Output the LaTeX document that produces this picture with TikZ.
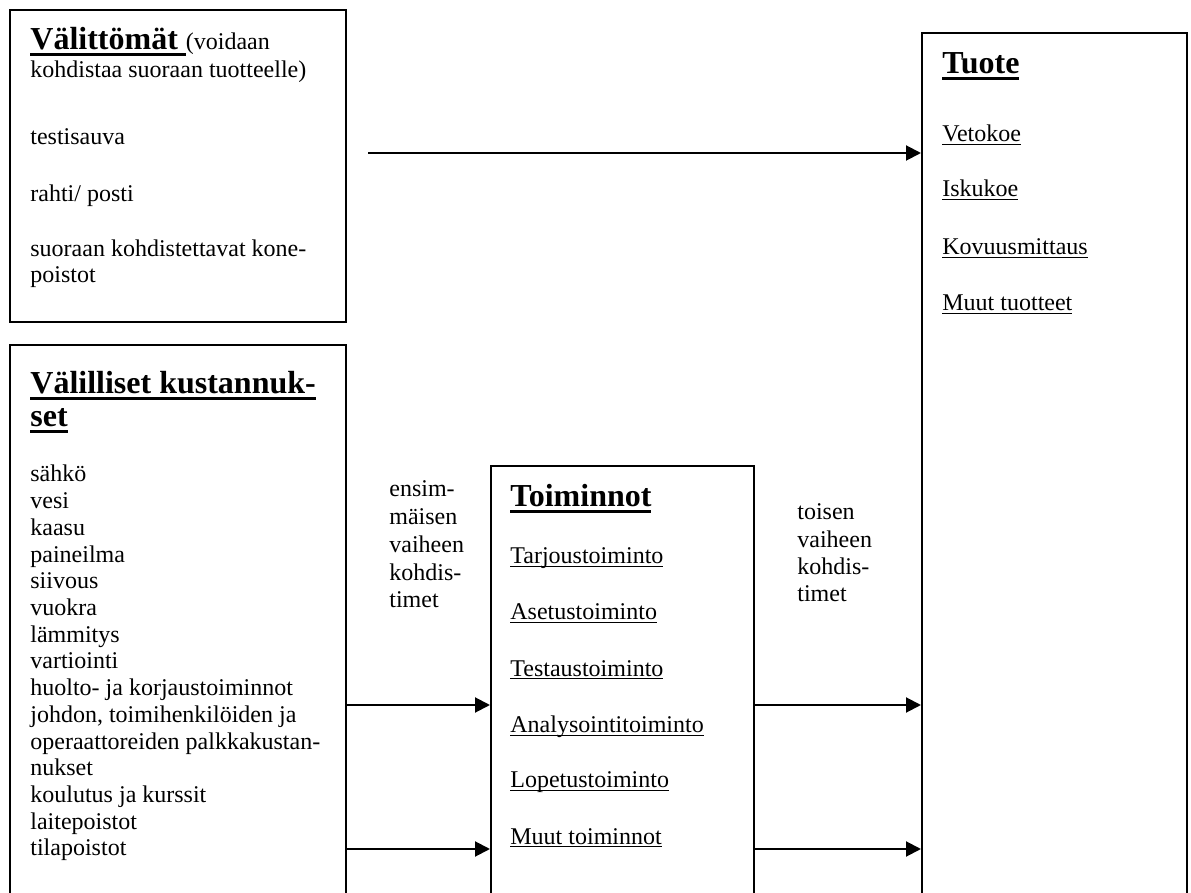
\documentclass[tikz,border=0pt]{standalone}
\usepackage{fontspec}
\setmainfont{Liberation Serif}
\usetikzlibrary{arrows.meta,positioning}

\newsavebox{\viivabox}
\newcommand{\otsikko}[1]{{\fontsize{16}{18}\selectfont\bfseries\sbox{\viivabox}{#1}\rlap{\rule[-3.2pt]{\wd\viivabox}{1.5pt}}\usebox{\viivabox}}}
\newcommand{\alleviivaa}[1]{{\sbox{\viivabox}{#1}\rlap{\rule[-1.6pt]{\wd\viivabox}{0.5pt}}\usebox{\viivabox}}}

\begin{document}
\begin{tikzpicture}[x=0.5pt, y=-0.5pt,
    laatikko/.style={draw, line width=1pt, anchor=north west, inner sep=0pt},
    teksti/.style={anchor=base west, inner sep=0pt, font=\fontsize{12}{13.8}\selectfont},
    nuoli/.style={-{Triangle[length=7.5pt,width=7.5pt]}, line width=1pt}
]
\useasboundingbox (0,0) rectangle (1191,893);
\clip (0,0) rectangle (1191,893);

\node[laatikko, minimum width=168pt, minimum height=156pt] (valittomat) at (9,9) {};
\node[laatikko, minimum width=168pt, minimum height=300pt] (valilliset) at (9,344) {};
\node[laatikko, minimum width=131.5pt, minimum height=250pt] (toiminnot) at (490,465) {};
\node[laatikko, minimum width=132.5pt, minimum height=450pt] (tuote) at (921,32) {};

\node[teksti] (vo) at (30,50) {\otsikko{Välittömät\ }(voidaan};
\node[teksti] (vo1) at (30,78) {kohdistaa suoraan tuotteelle)};
\node[teksti] (vo2) at (30,145) {testisauva};
\node[teksti] (vo3) at (30,202) {rahti/ posti};
\node[teksti] (vo4) at (30,257) {suoraan kohdistettavat kone-};
\node[teksti] (vo5) at (30,283) {poistot};

\node[teksti] (vk) at (30,394) {\otsikko{Välilliset kustannuk-}};
\node[teksti] (vk0) at (30,427) {\otsikko{set}};
\foreach \rivi [count=\i from 0] in {sähkö, vesi, kaasu, paineilma, siivous, vuokra, lämmitys, vartiointi,
    huolto- ja korjaustoiminnot, {johdon, toimihenkilöiden ja}, operaattoreiden palkkakustan-, nukset,
    koulutus ja kurssit, laitepoistot, tilapoistot}
  \node[teksti] (vk\i) at (30,482+26.7*\i) {\rivi};

\foreach \rivi [count=\i from 0] in {ensim-, mäisen, vaiheen, kohdis-, timet}
  \node[teksti] (ek\i) at (389,497+27.7*\i) {\rivi};
\foreach \rivi [count=\i from 0] in {toisen, vaiheen, kohdis-, timet}
  \node[teksti] (tk\i) at (797,520+27.2*\i) {\rivi};

\node[teksti] (to) at (510,507) {\otsikko{Toiminnot}};
\node[teksti] (to1) at (510,564) {\alleviivaa{Tarjoustoiminto}};
\node[teksti] (to2) at (510,620) {\alleviivaa{Asetustoiminto}};
\node[teksti] (to3) at (510,676) {\alleviivaa{Testaustoiminto}};
\node[teksti] (to4) at (510,733) {\alleviivaa{Analysointitoiminto}};
\node[teksti] (to5) at (510,788) {\alleviivaa{Lopetustoiminto}};
\node[teksti] (to6) at (510,844) {\alleviivaa{Muut toiminnot}};

\node[teksti] (tu) at (942,74) {\otsikko{Tuote}};
\node[teksti] (tu1) at (942,142) {\alleviivaa{Vetokoe}};
\node[teksti] (tu2) at (942,197) {\alleviivaa{Iskukoe}};
\node[teksti] (tu3) at (942,255) {\alleviivaa{Kovuusmittaus}};
\node[teksti] (tu4) at (942,311) {\alleviivaa{Muut tuotteet}};

\coordinate (suora) at (368,153);
\coordinate (y1) at (0,705);
\coordinate (y2) at (0,849);
\draw[nuoli] (suora) -- (suora -| tuote.west);
\draw[nuoli] (valilliset.east |- y1) -- (toiminnot.west |- y1);
\draw[nuoli] (valilliset.east |- y2) -- (toiminnot.west |- y2);
\draw[nuoli] (toiminnot.east |- y1) -- (tuote.west |- y1);
\draw[nuoli] (toiminnot.east |- y2) -- (tuote.west |- y2);
\end{tikzpicture}
\end{document}
